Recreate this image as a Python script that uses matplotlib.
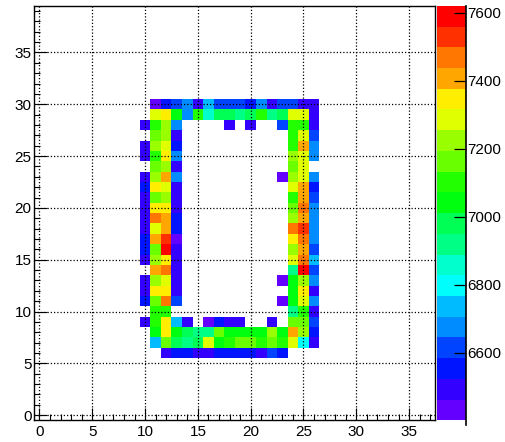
import colorsys
import numpy as np
import matplotlib
matplotlib.use('Agg')
import matplotlib.pyplot as plt
from matplotlib.colors import ListedColormap, BoundaryNorm
from matplotlib.ticker import MultipleLocator

plt.rcParams['font.family'] = ['Liberation Sans', 'DejaVu Sans']

# histogram binning, bins centred on integers
x_edges = np.arange(-0.5, 38.0, 1.0)   # 38 bins
y_edges = np.arange(-0.5, 40.0, 1.0)   # 40 bins

# z range of the palette and number of contours
z_min, z_max = 6401, 7621
n_contours = 20
z_ticks = [6600, 6800, 7000, 7200, 7400, 7600]

# filled bins: columns x = 10..26, rows listed from y = 30 down to y = 6 (0 = empty)
x_first = 10
y_top = 30
counts = [
    [0, 6430, 6550, 6615, 6675, 6490, 6735, 6615, 6615, 6615, 6550, 6675, 6490, 6615, 6615, 6490, 6490],  # 30
    [0, 7285, 7345, 7040, 6675, 7100, 6860, 6980, 6980, 6920, 6980, 7100, 6920, 6980, 7285, 7285, 6490],  # 29
    [6490, 7100, 7225, 6675, 0, 0, 0, 0, 6490, 0, 6490, 0, 0, 6615, 7100, 7100, 6490],                # 28
    [0, 7165, 7225, 6490, 0, 0, 0, 0, 0, 0, 0, 0, 0, 0, 7100, 7285, 6615],                            # 27
    [6490, 7225, 7285, 6550, 0, 0, 0, 0, 0, 0, 0, 0, 0, 0, 7100, 7405, 6675],                         # 26
    [6490, 7100, 7345, 6675, 0, 0, 0, 0, 0, 0, 0, 0, 0, 0, 7225, 7285, 6675],                         # 25
    [0, 7165, 7225, 6490, 0, 0, 0, 0, 0, 0, 0, 0, 0, 0, 7165, 7285, 0],                               # 24
    [6490, 7225, 7405, 6675, 0, 0, 0, 0, 0, 0, 0, 0, 0, 6430, 7225, 7285, 6675],                      # 23
    [6550, 7345, 7285, 6490, 0, 0, 0, 0, 0, 0, 0, 0, 0, 0, 7285, 7405, 6550],                         # 22
    [6490, 7165, 7225, 6490, 0, 0, 0, 0, 0, 0, 0, 0, 0, 0, 7100, 7405, 6615],                         # 21
    [6490, 7345, 7345, 6490, 0, 0, 0, 0, 0, 0, 0, 0, 0, 0, 7165, 7470, 6675],                         # 20
    [6490, 7470, 7405, 6550, 0, 0, 0, 0, 0, 0, 0, 0, 0, 0, 7225, 7405, 6675],                         # 19
    [6490, 7285, 7405, 6550, 0, 0, 0, 0, 0, 0, 0, 0, 0, 0, 7470, 7530, 6675],                         # 18
    [6550, 7405, 7530, 6430, 0, 0, 0, 0, 0, 0, 0, 0, 0, 0, 7345, 7470, 6675],                         # 17
    [6550, 7165, 7590, 6490, 0, 0, 0, 0, 0, 0, 0, 0, 0, 0, 7225, 7405, 6615],                         # 16
    [6490, 7225, 7345, 6490, 0, 0, 0, 0, 0, 0, 0, 0, 0, 0, 7285, 7470, 6735],                         # 15
    [0, 7405, 7470, 6490, 0, 0, 0, 0, 0, 0, 0, 0, 0, 0, 6920, 7590, 6615],                            # 14
    [6490, 7225, 7285, 6490, 0, 0, 0, 0, 0, 0, 0, 0, 0, 6430, 7040, 7225, 6675],                      # 13
    [6490, 7345, 7345, 6490, 0, 0, 0, 0, 0, 0, 0, 0, 0, 0, 7040, 7345, 6490],                         # 12
    [6550, 7165, 7470, 6615, 0, 0, 0, 0, 0, 0, 0, 0, 0, 6430, 7040, 7285, 6675],                      # 11
    [0, 7100, 7100, 0, 0, 0, 0, 0, 0, 0, 0, 0, 0, 0, 6920, 7100, 6490],                               # 10
    [6490, 7100, 7345, 6735, 6490, 0, 6430, 6550, 6490, 6490, 0, 0, 6490, 0, 7165, 7165, 6615],       # 9
    [0, 7040, 7345, 7040, 6980, 6920, 6920, 7165, 7040, 7040, 7040, 7040, 7225, 7040, 7405, 7225, 6550],  # 8
    [0, 6735, 7165, 6980, 6920, 6980, 7285, 7040, 7100, 7165, 7165, 7100, 7165, 7100, 7285, 6800, 6490],  # 7
    [0, 0, 6490, 6550, 6550, 6490, 6490, 6550, 6550, 6550, 6550, 6490, 6615, 6550, 0, 0, 0],          # 6
]

# put the filled block into the full histogram
z = np.zeros((len(y_edges) - 1, len(x_edges) - 1))
for i, row in enumerate(counts):
    yb = y_top - i
    for j, v in enumerate(row):
        z[yb, x_first + j] = v
z = np.ma.masked_equal(z, 0)

# ROOT "pretty" palette (violet -> red), 50 colours sampled by 20 contours
palette = []
for k in range(n_contours):
    idx = int((k + 0.99) * 50 / n_contours)
    hue = 280 - (idx + 1) * 280 / 50
    palette.append(colorsys.hls_to_rgb(hue / 360.0, 0.5, 1.0))
cmap = ListedColormap(palette)
norm = BoundaryNorm(np.linspace(z_min, z_max, n_contours + 1), n_contours)

W, H = 506, 442
fig = plt.figure(figsize=(W / 100, H / 100), dpi=100)
ax = fig.add_axes([34.2 / W, 21.6 / H, (435.5 - 34.2) / W, (420.4 - 5.8) / H])
cax = fig.add_axes([437.3 / W, 21.6 / H, (466 - 437.3) / W, (420.4 - 5.8) / H])

mesh = ax.pcolormesh(x_edges, y_edges, z, cmap=cmap, norm=norm)
ax.set_xlim(-0.5, 37.5)
ax.set_ylim(-0.5, 39.5)

for axis in (ax.xaxis, ax.yaxis):
    axis.set_major_locator(MultipleLocator(5))
    axis.set_minor_locator(MultipleLocator(1))
ax.grid(True, which='major', color='black', linestyle=(0, (1, 1.6)), linewidth=0.9)
ax.tick_params(which='both', direction='in', top=False, right=False, labelsize=11, width=0.8)
ax.tick_params(which='major', length=9)
ax.tick_params(which='minor', length=4.5)
ax.tick_params(axis='x', pad=3)
ax.tick_params(axis='y', pad=2)
for s in ax.spines.values():
    s.set_linewidth(1.0)

# palette axis
cb = fig.colorbar(mesh, cax=cax, ticks=z_ticks)
cb.outline.set_visible(False)
cb.minorticks_off()
cax.tick_params(direction='in', length=9, width=0.9, labelsize=11, pad=1)
cax.plot([1, 1], [-0.01, 1], transform=cax.transAxes, color='black', lw=1.2, clip_on=False)

fig.savefig('out.png', dpi=100)
